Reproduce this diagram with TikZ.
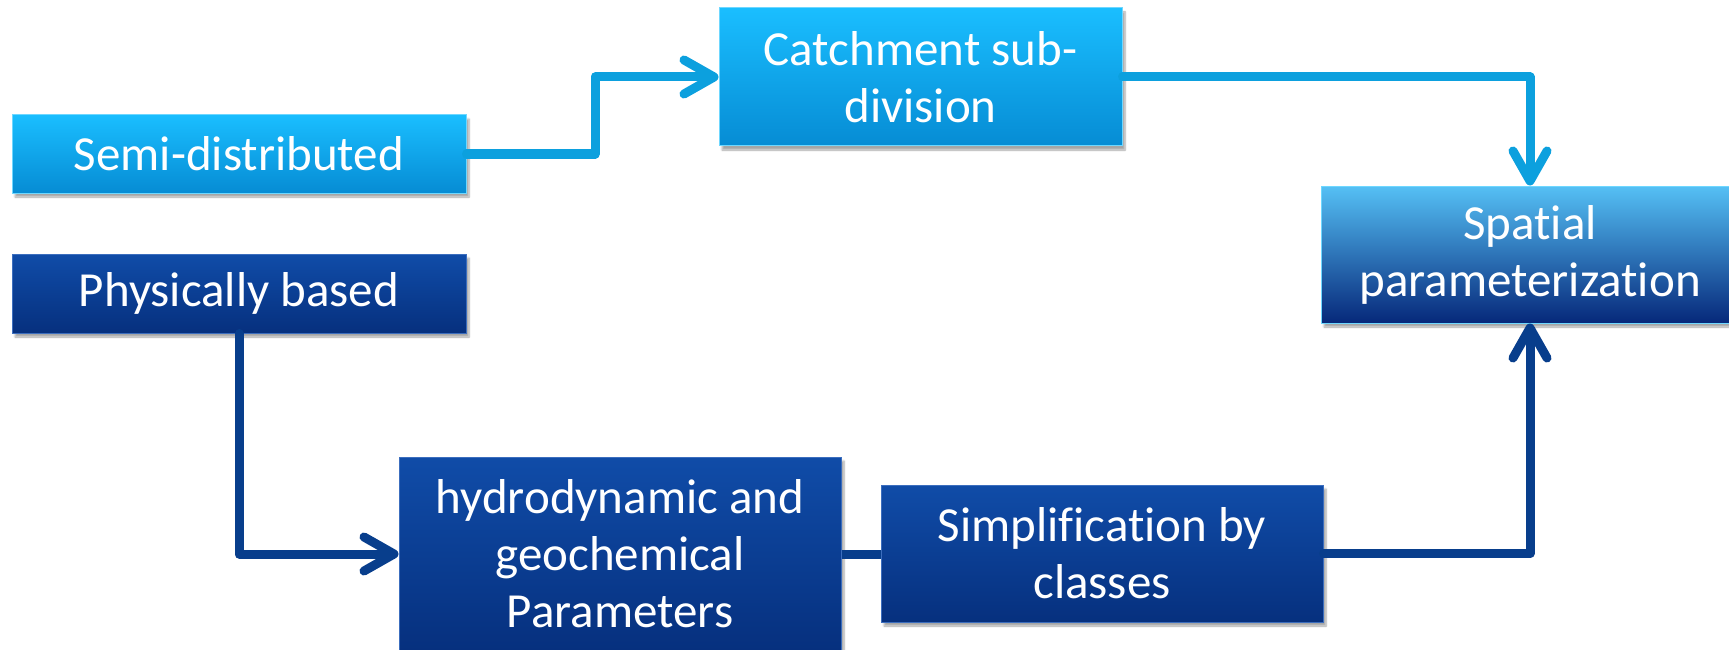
\documentclass[tikz,border=0pt]{standalone}
\usepackage{fontspec}
\setmainfont{Carlito}[Ligatures={NoCommon,NoRare}]
\usetikzlibrary{arrows.meta,shadows.blur}

\definecolor{lbtop}{RGB}{26,190,255}
\definecolor{lbbot}{RGB}{6,140,212}
\definecolor{lbedge}{RGB}{110,215,255}
\definecolor{sbtop}{RGB}{85,192,245}
\definecolor{sbmid}{RGB}{30,110,200}
\definecolor{sbbot}{RGB}{6,40,122}
\definecolor{dbtop}{RGB}{16,76,168}
\definecolor{dbbot}{RGB}{6,48,126}
\definecolor{dbedge}{RGB}{60,110,190}
\definecolor{lline}{RGB}{12,160,222}
\definecolor{dline}{RGB}{8,62,140}

\begin{document}
\begin{tikzpicture}[x=1pt,y=-1pt,
  box/.style={rectangle, inner sep=0pt, align=center, text=white,
    font=\fontsize{49}{57}\selectfont,
    blur shadow={shadow xshift=3pt, shadow yshift=-4pt, shadow blur steps=6, shadow opacity=35}},
  lbox/.style={box, top color=lbtop, bottom color=lbbot, draw=lbedge, line width=1pt},
  sbox/.style={box, top color=sbtop, middle color=sbmid, bottom color=sbbot, draw=lbedge, line width=1pt},
  dbox/.style={box, top color=dbtop, bottom color=dbbot, draw=dbedge, line width=1pt},
  conn/.style={line width=9pt, line cap=round, line join=round,
    preaction={draw=black, draw opacity=0.15, transform canvas={shift={(2pt,-3pt)}}}},
  tip/.style={-{Straight Barb[length=30pt,width=34pt,round]}},
  lconn/.style={conn, draw=lline, tip},
  dconn/.style={conn, draw=dline, tip},
  dlink/.style={line width=9pt, draw=dline}
]
\useasboundingbox (0,0) rectangle (1729,650);

\node[lbox, minimum width=454pt, minimum height=78pt] (semi) at (239,154) {Semi-distributed};
\node[lbox, minimum width=403pt, minimum height=138pt] (catch) at (920.5,77) {Catchment sub-\\division};
\node[sbox, minimum width=418pt, minimum height=137pt] (spat) at (1530,254.5) {Spatial\\parameterization};
\node[dbox, minimum width=454pt, minimum height=79pt] (phys) at (239,293.5) {Physically based};
\node[dbox, minimum width=442pt, minimum height=194pt] (hydro) at (620,554) {hydrodynamic and\\geochemical\\Parameters};
\node[dbox, minimum width=442pt, minimum height=137pt] (simp) at (1102,553.5) {Simplification by\\classes};

\coordinate (j1) at (595,0);
\draw[lconn] (semi.east) -- (semi.east -| j1) |- (catch.west);
\draw[lconn] (catch.east) -| (spat.north);
\draw[dconn] (phys.south) |- (hydro.west);
\draw[dlink] (hydro.east) -- (hydro.east -| simp.west);
\draw[dconn] (simp.east) -| (spat.south);
\end{tikzpicture}
\end{document}
